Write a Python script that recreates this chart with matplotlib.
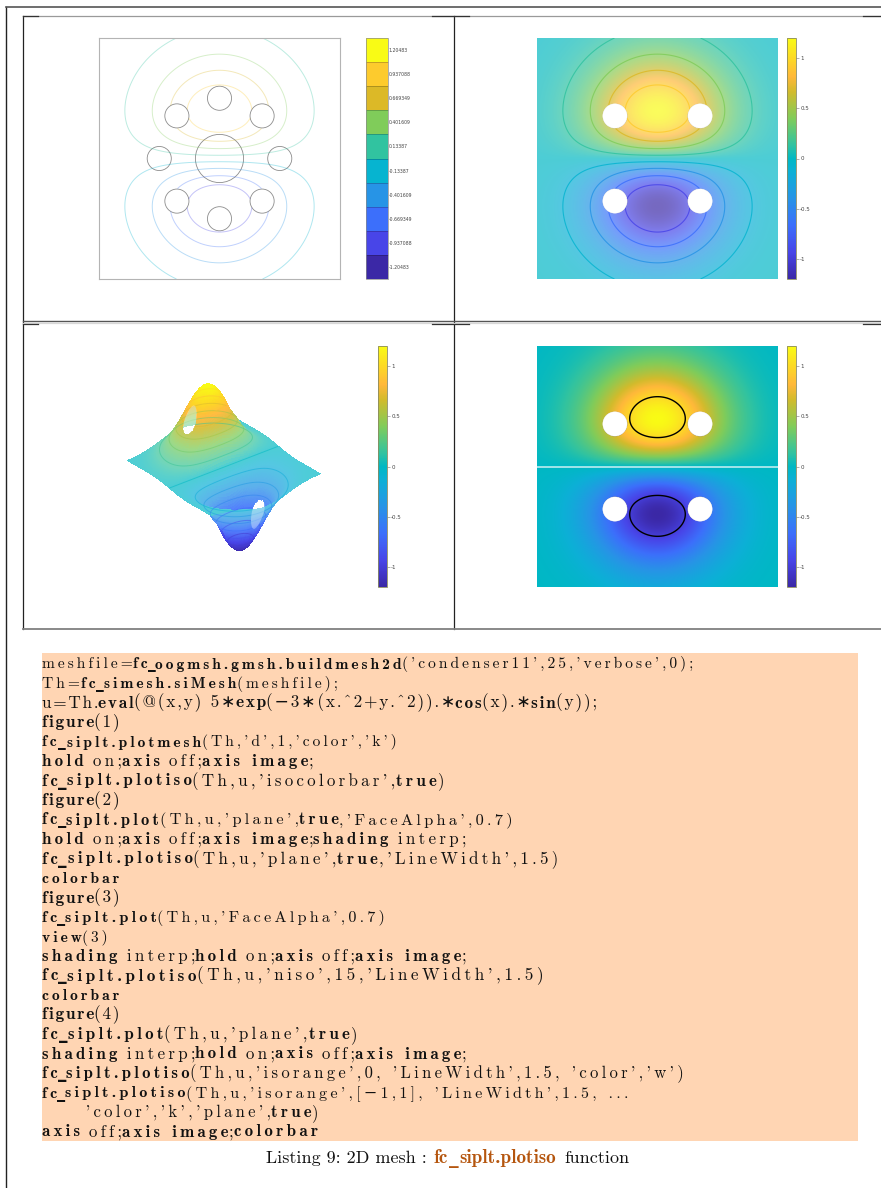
import warnings
import numpy as np
import matplotlib
matplotlib.use("Agg")
import matplotlib.pyplot as plt
from matplotlib.colors import LinearSegmentedColormap, Normalize, ListedColormap, BoundaryNorm, to_rgb
from matplotlib.cm import ScalarMappable
from matplotlib.patches import Circle, Rectangle
from mpl_toolkits.mplot3d import proj3d
from mpl_toolkits.mplot3d.art3d import Poly3DCollection

warnings.filterwarnings("ignore")
plt.rcParams["contour.negative_linestyle"] = "solid"

# ---------- data ----------
# Field as printed in the reference's own listing (line u=Th.eval(...)).
DOMAIN = (-1.0, 1.0)
GRID_N = 401
GRID_N_3D = 201
HOLE_X = [-0.3536, 0.3536, -0.3536, 0.3536]
HOLE_Y = [0.3536, 0.3536, -0.3536, -0.3536]
HOLE_R = 0.1
SEEN_HOLE_X = [-0.3536, 0.3536]
SEEN_HOLE_Y = [0.3536, -0.3536]
INNER_X = [0.0, 0.0, 0.0, -0.5, 0.5]
INNER_Y = [0.0, 0.5, -0.5, 0.0, 0.0]
INNER_R = [0.2, 0.1, 0.1, 0.1, 0.1]
UMAX = 1.20483
ISO_POS = [0.13387, 0.401609, 0.669349, 0.937088]
ISO_NEG = [-0.937088, -0.669349, -0.401609, -0.13387]
ISO_CELL_LABELS = ["-1.20483", "-0.937088", "-0.669349", "-0.401609", "-0.13387",
                   "0.13387", "0.401609", "0.669349", "0.937088", "1.20483"]
ISO_CELL_VALUES = [-1.20483, -0.937088, -0.669349, -0.401609, -0.13387,
                   0.13387, 0.401609, 0.669349, 0.937088, 1.20483]
ISO_CELL_COLORS = ["#3b28a6", "#4845e8", "#3c6ffb", "#2794e6", "#06b4d0",
                   "#31c3a0", "#80cc5a", "#dcb927", "#fdcb2d", "#f9fb15"]
N_ISO_3D = 15
FACE_ALPHA = 0.7
CB_TICKS = [-1, -0.5, 0, 0.5, 1]
CB_LABELS = ["-1", "-0.5", "0", "0.5", "1"]
CMAP_VALUES = [-1.20483, -0.937, -0.669, -0.40, -0.134, 0.0, 0.134, 0.40, 0.669, 0.82, 0.98, 1.20483]
CMAP_COLORS = ["#3b28a6", "#4845e8", "#3c6ffb", "#2794e6", "#0cb0d6", "#00b8c4", "#31c3a0",
               "#80cc5a", "#d2bb2c", "#ffb83a", "#fdd527", "#f9fb15"]

CODE = [
    "meshfile=|fc_oogmsh.gmsh.buildmesh2d|('condenser11',25,'verbose',0);",
    "Th=|fc_simesh.siMesh|(meshfile);",
    "u=Th.|eval|(@(x,y) 5∗|exp|(−3∗(x.^2+y.^2)).∗|cos|(x).∗|sin|(y));",
    "|figure|(1)",
    "|fc_siplt.plotmesh|(Th,'d',1,'color','k')",
    "|hold| on;|axis| off;|axis image|;",
    "|fc_siplt.plotiso|(Th,u,'isocolorbar',|true|)",
    "|figure|(2)",
    "|fc_siplt.plot|(Th,u,'plane',|true|,'FaceAlpha',0.7)",
    "|hold| on;|axis| off;|axis image|;|shading| interp;",
    "|fc_siplt.plotiso|(Th,u,'plane',|true|,'LineWidth',1.5)",
    "|colorbar|",
    "|figure|(3)",
    "|fc_siplt.plot|(Th,u,'FaceAlpha',0.7)",
    "|view|(3)",
    "|shading| interp;|hold| on;|axis| off;|axis image|;",
    "|fc_siplt.plotiso|(Th,u,'niso',15,'LineWidth',1.5)",
    "|colorbar|",
    "|figure|(4)",
    "|fc_siplt.plot|(Th,u,'plane',|true|)",
    "|shading| interp;|hold| on;|axis| off;|axis image|;",
    "|fc_siplt.plotiso|(Th,u,'isorange',0, 'LineWidth',1.5, 'color','w')",
    "|fc_siplt.plotiso|(Th,u,'isorange',[−1,1], 'LineWidth',1.5, ...",
    "     'color','k','plane',|true|)",
    "|axis| off;|axis image|;|colorbar|",
]
LINE_ENDS = [692, 338, 593, 120, 397, 313, 444, 120, 513, 465, 558, 120, 120, 385, 108,
             465, 540, 120, 120, 357, 465, 680, 627, 317, 317]

# ---------- figure ----------
W, H = 881, 1188
fig = plt.figure(figsize=(W / 100, H / 100), dpi=100, facecolor="white")


def rect(x0, y0, x1, y1):
    return [x0 / W, 1 - y1 / H, (x1 - x0) / W, (y1 - y0) / H]


page = fig.add_axes([0, 0, 1, 1], zorder=0)
page.set_xlim(0, W)
page.set_ylim(H, 0)
page.axis("off")

cmap_stops = [((v + UMAX) / (2 * UMAX), c) for v, c in zip(CMAP_VALUES, CMAP_COLORS)]
cmap = LinearSegmentedColormap.from_list("parula_like", cmap_stops, N=512)


# the map seen through FaceAlpha over white for the painter-sorted surface;
# the tall lobes, where two transparent layers stack up, read almost opaque
def stacked_alpha(v):
    return FACE_ALPHA + (1 - FACE_ALPHA) * min(max((abs(v) - 0.3) / 0.6, 0.0), 1.0)


cmap_pale = LinearSegmentedColormap.from_list(
    "parula_pale",
    [((v + UMAX) / (2 * UMAX), tuple(stacked_alpha(v) * np.array(to_rgb(c)) + (1 - stacked_alpha(v))))
     for v, c in zip(CMAP_VALUES, CMAP_COLORS)], N=512)
norm = Normalize(-UMAX, UMAX)

x = np.linspace(DOMAIN[0], DOMAIN[1], GRID_N)
X, Y = np.meshgrid(x, x)


def field(xx, yy):
    return 5 * np.exp(-3 * (xx ** 2 + yy ** 2)) * np.cos(xx) * np.sin(yy)


def holes_mask(xx, yy):
    m = np.zeros_like(xx, dtype=bool)
    for hx, hy in zip(HOLE_X, HOLE_Y):
        m |= (xx - hx) ** 2 + (yy - hy) ** 2 < HOLE_R ** 2
    return m


U = field(X, Y)
Um = np.ma.array(U, mask=holes_mask(X, Y))
ISO = ISO_NEG + ISO_POS
ISO_COL = ISO_CELL_COLORS[1:5] + ISO_CELL_COLORS[5:9]


def plane_axes(x0, y0):
    ax = fig.add_axes(rect(x0, y0, x0 + 241, y0 + 241), zorder=2)
    ax.set_xlim(*DOMAIN)
    ax.set_ylim(*DOMAIN)
    ax.set_aspect("equal")
    ax.set_xticks([])
    ax.set_yticks([])
    for s in ax.spines.values():
        s.set_visible(False)
    return ax


def cont_cb(x0, y0):
    cax = fig.add_axes(rect(x0, y0, x0 + 9, y0 + 241), zorder=2)
    cb = fig.colorbar(ScalarMappable(norm=Normalize(-UMAX, UMAX), cmap=cmap), cax=cax, ticks=CB_TICKS)
    cb.ax.set_yticklabels(CB_LABELS)
    cb.ax.tick_params(length=2, width=0.4, color="#777777", labelsize=4.0,
                      labelcolor="#444444", pad=1)
    cb.outline.set_edgecolor("#8a8a60")
    cb.outline.set_linewidth(0.6)
    return cb


# Panel 1: mesh boundaries and iso-lines
ax1 = plane_axes(99, 38)
ax1.contour(X, Y, Um, levels=ISO, colors=ISO_COL, linewidths=0.7, alpha=0.32)
for cx, cy, r in list(zip(INNER_X, INNER_Y, INNER_R)) + [(a, b, HOLE_R) for a, b in zip(HOLE_X, HOLE_Y)]:
    ax1.add_patch(Circle((cx, cy), r, fill=False, ec="#8c8c8c", lw=0.6))
for s in ax1.spines.values():
    s.set_visible(True)
    s.set_edgecolor("#b4b4b4")
    s.set_linewidth(0.8)

cax1 = fig.add_axes(rect(366, 38, 388, 279), zorder=2)
bounds = np.linspace(-1.33870, 1.33870, 11)
cb1 = fig.colorbar(ScalarMappable(norm=BoundaryNorm(bounds, 10), cmap=ListedColormap(ISO_CELL_COLORS)),
                   cax=cax1, ticks=ISO_CELL_VALUES, spacing="uniform", drawedges=True)
cb1.ax.set_yticklabels(ISO_CELL_LABELS)
cb1.ax.minorticks_off()
cb1.ax.tick_params(length=0, labelsize=3.3, labelcolor="#444444", pad=0.6)
cb1.outline.set_edgecolor("#8a8a8a")
cb1.outline.set_linewidth(0.5)
cb1.dividers.set_color((0, 0, 0, 0.3))
cb1.dividers.set_linewidth(0.5)

# Panel 2: transparent plane with iso-lines
ax2 = plane_axes(537, 38)
ax2.imshow(Um, extent=(*DOMAIN, *DOMAIN), origin="lower", cmap=cmap, norm=norm, alpha=FACE_ALPHA,
           interpolation="bilinear", aspect="equal")
ax2.contour(X, Y, Um, levels=ISO, colors=ISO_COL, linewidths=0.8, alpha=0.85)
for hx, hy in zip(HOLE_X, HOLE_Y):
    ax2.add_patch(Circle((hx, hy), HOLE_R, fc="white", ec="white", lw=0.3, zorder=5))
cont_cb(787, 38)

# Panel 3: surface in MATLAB view(3)
x3 = np.linspace(DOMAIN[0], DOMAIN[1], GRID_N_3D)
X3, Y3 = np.meshgrid(x3, x3)
Z3 = field(X3, Y3)
Z3[holes_mask(X3, Y3)] = np.nan
SCALE3 = 68.8
CENTER3 = (220.5, 470.5)
side = 300.0
ax3 = fig.add_axes(rect(CENTER3[0] - side / 2, CENTER3[1] - side / 2, CENTER3[0] + side / 2, CENTER3[1] + side / 2),
                   projection="3d", computed_zorder=False, zorder=1)
ax3.set_proj_type("ortho")
ax3.set_xlim(*DOMAIN)
ax3.set_ylim(*DOMAIN)
ax3.set_zlim(-UMAX, UMAX)
ax3.set_box_aspect((2, 2, 2 * UMAX))
ax3.view_init(elev=30, azim=-127.5)
ax3.set_axis_off()
ax3.patch.set_alpha(0)
px, py, _ = proj3d.proj_transform(np.array([1.0, -1.0]), np.array([-1.0, 1.0]), np.array([0.0, 0.0]), ax3.get_proj())
pts = ax3.transData.transform(np.column_stack([px, py]))
factor = (2.804 * SCALE3) / np.hypot(*(pts[0] - pts[1]))
side *= factor
ax3.set_position(rect(CENTER3[0] - side / 2, CENTER3[1] - side / 2, CENTER3[0] + side / 2, CENTER3[1] + side / 2))
ax3.plot_surface(X3, Y3, Z3, rstride=1, cstride=1, cmap=cmap_pale, norm=Normalize(-UMAX, UMAX),
                 linewidth=0, antialiased=False, shade=False, zorder=1)
x3f = np.linspace(DOMAIN[0], DOMAIN[1], 241)
X3f, Y3f = np.meshgrid(x3f, x3f)
ax3.contour(X3f, Y3f, np.ma.array(field(X3f, Y3f), mask=holes_mask(X3f, Y3f)),
            levels=np.linspace(-UMAX, UMAX, N_ISO_3D)[1:-1],
            cmap=cmap, norm=Normalize(-UMAX, UMAX), linewidths=0.7, alpha=0.55, zorder=2)
# the two holes seen through the transparent wall in front of them
th = np.linspace(0, 2 * np.pi, 60)
for hx, hy in zip(SEEN_HOLE_X, SEEN_HOLE_Y):
    cx3, cy3 = hx + HOLE_R * np.cos(th), hy + HOLE_R * np.sin(th)
    ax3.add_collection3d(Poly3DCollection([np.column_stack([cx3, cy3, field(cx3, cy3)])],
                                          facecolors=(1, 1, 1, 0.35), edgecolors="none", zorder=3))
cont_cb(378, 346)

# Panel 4: opaque plane, zero line white, +-1 lines black
ax4 = plane_axes(537, 346)
ax4.imshow(Um, extent=(*DOMAIN, *DOMAIN), origin="lower", cmap=cmap, norm=norm,
           interpolation="bilinear", aspect="equal")
ax4.contour(X, Y, Um, levels=[0], colors="white", linewidths=1.1, alpha=0.8)
ax4.contour(X, Y, Um, levels=[-1, 1], colors="black", linewidths=1.0)
for hx, hy in zip(HOLE_X, HOLE_Y):
    ax4.add_patch(Circle((hx, hy), HOLE_R, fc="white", ec="white", lw=0.3, zorder=5))
cont_cb(787, 346)

# ---------- page frames ----------
DARK = "#222222"
page.plot([6, 6], [7, H], color=DARK, lw=1.0)
page.plot([6, W], [7, 7], color="#555555", lw=1.2)
for xs in ([23, 23], [454, 454]):
    page.plot(xs, [16, 629], color=DARK, lw=0.9)
page.plot([23, W], [16, 16], color="#9a9a9a", lw=0.9)
page.plot([23, W], [320.8, 320.8], color="#555555", lw=1.0)
page.plot([23, W], [323, 323], color="#d8d8d8", lw=0.9)
page.plot([23, W], [629, 629], color="#808080", lw=1.3)
for y in (16, 324.3):
    for a, b in ((23, 38), (432, 469), (863, W)):
        page.plot([a, b], [y, y], color="#333333", lw=0.9)

# ---------- listing ----------
page.add_patch(Rectangle((42, 653), 816, 488, fc="#ffd5b3", ec="none"))
HAIR = "\u200a"
renderer = fig.canvas.get_renderer()
INK = "#111111"


def split_pieces(line):
    """Line markup -> pieces of (text, style); '|' toggles bold, '_' is its own piece."""
    out = []
    for j, seg in enumerate(line.split("|")):
        bold = bool(j % 2)
        for n, part in enumerate(seg.split("_")):
            if n:
                out.append(("_", "rule"))
            if part:
                out.append((part, "bold" if bold else "regular"))
    return out


def text_kw(style, fs, color):
    if style == "rule":
        return dict(family="DejaVu Sans", fontweight="bold", fontsize=fs, color=color)
    return dict(family=["cmb10" if style == "bold" else "cmr10", "DejaVu Sans"], fontsize=fs, color=color)


def spaced(s, style, k):
    return s if style == "rule" else (HAIR * k).join(s)


def width_of(s, style, k, fs):
    t = page.text(0, 0, spaced(s, style, k), **text_kw(style, fs, INK))
    w = t.get_window_extent(renderer).width
    t.remove()
    return w


def set_line(pieces, x0, x1, base, color=INK, ks=(1, 2), sizes=(11.2, 11.4, 11.6, 11.8, 12.0, 12.2, 12.4)):
    """Write one line as real texts, choosing tracking and size so it ends near x1."""
    body = [p for p in pieces if p[0].strip()]
    lead = pieces[0][0] if not pieces[0][0].strip() else ""
    start = x0 + len(lead) * 9.2
    target = x1 - start
    best = None
    for k in ks:
        for fs in sizes:
            total = sum(width_of(s, st, k, fs) for s, st in body)
            err = abs(total - target) + 0.5 * abs(fs - sizes[len(sizes) // 2])
            if best is None or err < best[0]:
                best = (err, k, fs, total)
    _, k, fs, total = best
    gap = (target - total) / max(len(body) - 1, 1)
    gap = min(max(gap, 0.0), 6.0)
    pos = start
    for s, st in body:
        page.text(pos, base, spaced(s, st, k), va="baseline", ha="left", **text_kw(st, fs, color))
        pos += width_of(s, st, k, fs) + gap


for i, (line, end) in enumerate(zip(CODE, LINE_ENDS)):
    set_line(split_pieces(line), 42, end, 668.5 + i * 19.5)

# ---------- caption ----------
FS_CAP = 13.0
page.text(266, 1163, "Listing 9: 2D mesh :", family=["cmr10", "DejaVu Sans"], fontsize=FS_CAP, va="baseline", color=INK)
set_line(split_pieces("|fc_siplt.plotiso|"), 434, 556, 1163, color="#b5560f", ks=(0,),
         sizes=(12.6, 13.0, 13.4, 13.8, 14.2))
page.text(564, 1163, "function", family=["cmr10", "DejaVu Sans"], fontsize=FS_CAP, va="baseline", color=INK)

fig.savefig("out.png", dpi=100)
